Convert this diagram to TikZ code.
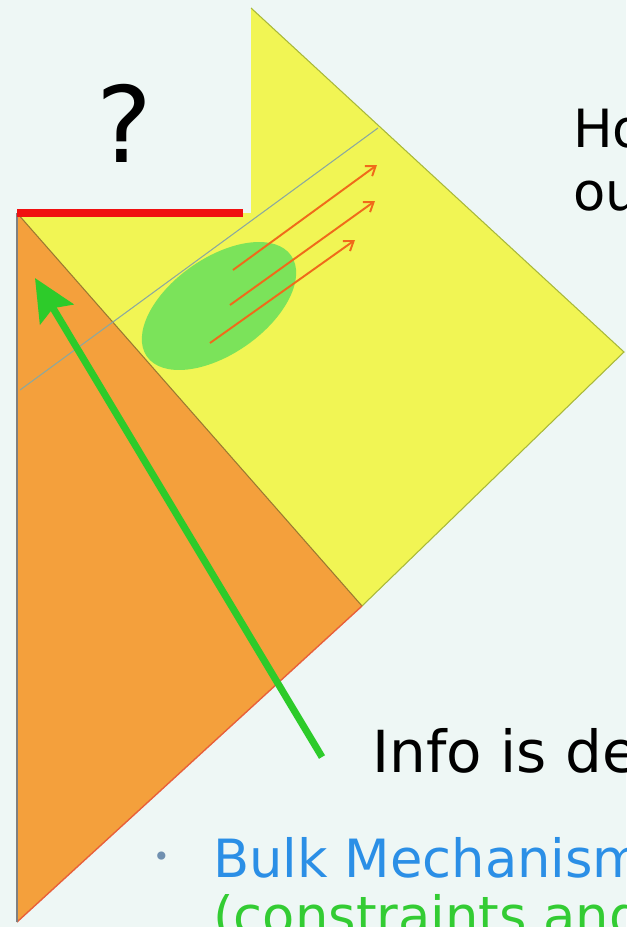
\documentclass[tikz,border=0pt]{standalone}
\usepackage{fontspec}
\setmainfont{DejaVu Sans}
\usepackage{tikz}
\usetikzlibrary{arrows.meta, positioning}

\definecolor{slidebg}{HTML}{EEF7F5}
\definecolor{bulkyellow}{HTML}{F1F554}
\definecolor{wedgeorange}{HTML}{F4A03C}
\definecolor{edgeolive}{HTML}{A8B83A}
\definecolor{edgebrown}{HTML}{9A7A30}
\definecolor{edgered}{HTML}{E8603A}
\definecolor{slicegray}{HTML}{8AA8A0}
\definecolor{horizonred}{HTML}{F01010}
\definecolor{blobgreen}{HTML}{7BE35A}
\definecolor{rayorange}{HTML}{F06A1A}
\definecolor{arrowgreen}{HTML}{2DCB2A}
\definecolor{bulkblue}{HTML}{2B8FE6}
\definecolor{constraintgreen}{HTML}{33CC33}
\definecolor{bulletgray}{HTML}{7090B0}

\begin{document}
\begin{tikzpicture}[
    x=0.02cm, y=-0.02cm,
    bigtext/.style={font=\fontsize{30}{36}\selectfont, anchor=base west, inner sep=0pt},
    ray/.style={-{Straight Barb[length=5pt,width=7pt]}, draw=rayorange, line width=1.1pt},
    infoarrow/.style={-{Stealth[length=24pt,width=22pt,inset=4pt]}, draw=arrowgreen, line width=4pt}
]
\useasboundingbox (0,0) rectangle (626,927);
\clip (0,0) rectangle (626,927);
\fill[slidebg] (0,0) rectangle (626,927);

% yellow region and orange wedge
\fill[bulkyellow] (251,8) -- (624,352) -- (362,606) -- (17,213) -- (251,213) -- cycle;
\draw[edgeolive, line width=0.6pt] (251,8) -- (624,352) -- (362,606);
\fill[wedgeorange] (17,213) -- (362,606) -- (17,922) -- cycle;
\draw[edgebrown, line width=0.6pt] (17,213) -- (362,606);
\draw[edgered, line width=0.8pt] (362,606) -- (17,922);
\draw[gray, line width=0.6pt] (17,213) -- (17,922);
\draw[slicegray, line width=0.6pt] (20,390) -- (378,128);
\draw[horizonred, line width=4.5pt] (17,213) -- (243,213);

% green blob with rays
\fill[blobgreen, rotate around={35:(219,306)}] (219,306) ellipse [x radius=88, y radius=48];
\coordinate (s1) at (233,270); \coordinate (e1) at (377,165);
\coordinate (s2) at (230,305); \coordinate (e2) at (375,201);
\coordinate (s3) at (210,343); \coordinate (e3) at (355,240);
\foreach \i in {1,2,3}
    \draw[ray] (s\i) -- (e\i);

% info arrow
\coordinate (gtail) at (322,757);
\coordinate (gtip) at (35,278);
\draw[infoarrow] (gtail) -- (gtip);

% texts
\node[font=\fontsize{60}{60}\selectfont, anchor=base west, inner sep=0pt] (qmark) at (96,162) {?};
\node[bigtext] (how) at (573,147) {Ho};
\node[bigtext] (out) at (573,210) {ou};
\node[bigtext, font=\fontsize{33}{38}\selectfont] (info) at (372,772) {Info is de};
\node[font=\fontsize{16}{16}\selectfont, text=bulletgray, anchor=base east, inner sep=0pt] (dot) at (170,866) {•};
\node[bigtext, text=bulkblue] (bulk) at (213,877) {Bulk Mechanism};
\node[bigtext, text=constraintgreen] (constr) at (213,934) {(constraints and};
\end{tikzpicture}
\end{document}
